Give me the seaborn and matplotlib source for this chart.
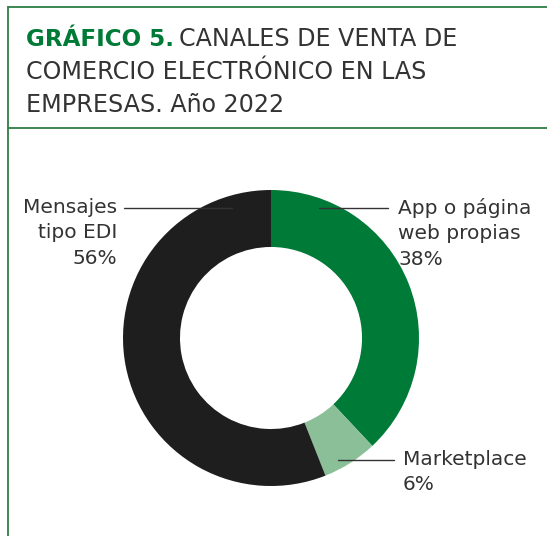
import matplotlib
matplotlib.use("Agg")
import matplotlib.pyplot as plt
import seaborn as sns

# data
canales = ["App o página\nweb propias", "Marketplace", "Mensajes\ntipo EDI"]
porcentajes = [38, 6, 56]
colores = ["#007a37", "#8abf98", "#1e1e1e"]

sns.set_theme(style="white")
plt.rcParams['font.family'] = ['DejaVu Sans']

W, H = 547, 536
fig = plt.figure(figsize=(W/100, H/100), dpi=100)

# donut
cx, cy, r = 271, 338, 148
axp = fig.add_axes([(cx - r)/W, (H - cy - r)/H, 2*r/W, 2*r/H], zorder=1)
axp.pie(porcentajes, colors=colores, startangle=90, counterclock=False,
        radius=1, wedgeprops=dict(width=0.385, linewidth=0))
axp.set_xlim(-1, 1)
axp.set_ylim(-1, 1)
axp.set_aspect("auto")
axp.axis("off")

# overlay in pixel coords
ax = fig.add_axes([0, 0, 1, 1], zorder=2)
ax.set_xlim(0, W)
ax.set_ylim(H, 0)
ax.patch.set_alpha(0)
ax.axis("off")

verde = "#2e7d46"
gris = "#333333"
ax.plot([8, 8], [7, H], color=verde, lw=1.3)
ax.plot([8, W], [7, 7], color=verde, lw=1.3)
ax.plot([8, W], [128, 128], color=verde, lw=1.3)

fig.canvas.draw()
rend = fig.canvas.get_renderer()

def fit_size(txt, target, weight="normal"):
    t = ax.text(0, 0, txt, fontsize=10, fontweight=weight)
    w = t.get_window_extent(renderer=rend).width
    t.remove()
    return 10 * target / w

# title
tfs = fit_size("COMERCIO ELECTRÓNICO EN LAS", 398)
t1 = ax.text(26, 46, "GRÁFICO 5.", fontsize=tfs * 0.97, fontweight="bold", color="#007a37", va="baseline")
bb = t1.get_window_extent(renderer=rend)
ax.text(bb.x1 + 5, 46, "CANALES DE VENTA DE", fontsize=tfs, color=gris, va="baseline")
ax.text(26, 79, "COMERCIO ELECTRÓNICO EN LAS", fontsize=tfs, color=gris, va="baseline")
ax.text(26, 112, "EMPRESAS. Año 2022", fontsize=tfs, color=gris, va="baseline")

# labels
fs = fit_size("Mensajes", 94)
ls = 1.42
ax.plot([319, 388], [208, 208], color=gris, lw=1)
ax.text(398, 198, canales[0] + "\n%d%%" % porcentajes[0], fontsize=fs, color=gris,
        ha="left", va="top", linespacing=ls)
ax.plot([124, 232], [208, 208], color=gris, lw=1, zorder=0)
ax.text(117, 198, canales[2] + "\n%d%%" % porcentajes[2], fontsize=fs, color=gris,
        ha="right", va="top", linespacing=ls, multialignment="right")
ax.plot([338, 394], [460, 460], color=gris, lw=1)
ax.text(403, 450, canales[1] + "\n%d%%" % porcentajes[1], fontsize=fs, color=gris,
        ha="left", va="top", linespacing=ls)

fig.savefig("out.png", dpi=100)
